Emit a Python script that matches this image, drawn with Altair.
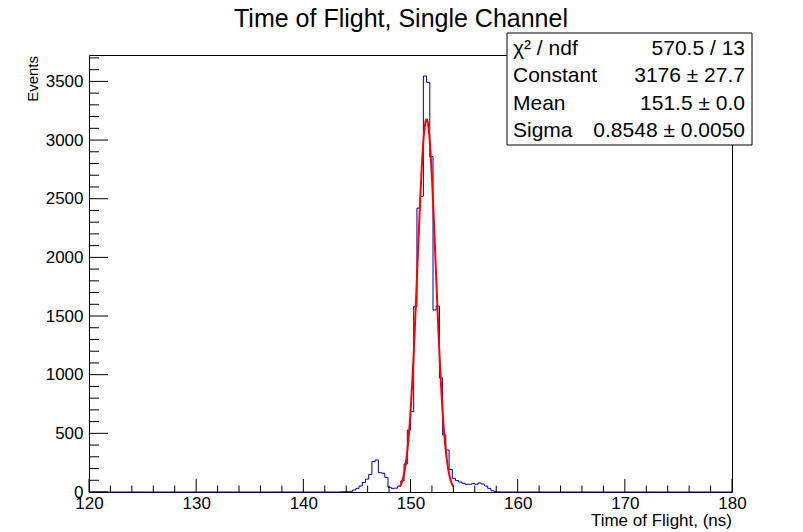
import altair as alt
import pandas as pd

FONT = "Liberation Sans"

# ---------------- data ----------------
x_min, x_max = 120.0, 180.0
bin_width = 0.3
n_bins = 200
first_bin = 78  # index of first listed bin (143.4 ns)
counts = [1, 2, 3, 6, 17, 31, 51, 80, 110, 150,
          259, 273, 165, 160, 125, 40, 31, 33, 50, 95,
          240, 528, 685, 1580, 2420, 2520, 3546, 3492, 2858, 1551,
          1585, 972, 486, 358, 193, 117, 97, 85, 74, 66,
          66, 71, 66, 77, 68, 51, 31, 11, 3, 1]
y_max = 3725

fit_const = 3176.0
fit_mean = 151.5
fit_sigma = 0.8548
fit_lo, fit_hi = 149.0, 154.0

title_text = "Time of Flight, Single Channel"
x_title = "Time of Flight, (ns)"
y_title = "Events"
stat_labels = ["χ² / ndf", "Constant", "Mean", "Sigma"]
stat_values = ["570.5 / 13", "3176 ± 27.7", "151.5 ± 0.0", "0.8548 ± 0.0050"]

x_major = [120, 130, 140, 150, 160, 170, 180]
x_minor = [v for v in range(122, 180, 2) if v % 10 != 0]
y_major = [0, 500, 1000, 1500, 2000, 2500, 3000, 3500]
y_minor = [v for v in range(100, 3800, 100) if v % 500 != 0]

# ---------------- tables ----------------
full = [0] * n_bins
for i, c in enumerate(counts):
    full[first_bin + i] = c
edges = [round(x_min + bin_width * k, 4) for k in range(n_bins + 1)]
hist_df = pd.DataFrame({"x": edges, "n": full + [full[-1]]})

W, H = 643, 437
xs = alt.Scale(domain=[x_min, x_max], nice=False, zero=False)
ys = alt.Scale(domain=[0, y_max], nice=False)

x_axis = alt.Axis(values=x_major, format="d", title=None, ticks=False, tickSize=0,
                  domain=False, grid=False, labelFont=FONT, labelFontSize=17,
                  labelColor="black", labelPadding=3, labelFlush=False,
                  labelOverlap=False)
y_axis = alt.Axis(values=y_major, format="d", title=None, ticks=False, tickSize=0,
                  domain=False, grid=False, labelFont=FONT, labelFontSize=17,
                  labelColor="black", labelPadding=6, labelOverlap=False)

hist = alt.Chart(hist_df).mark_line(
    interpolate="step-after", color="#000099", strokeWidth=1
).encode(
    x=alt.X("x:Q", scale=xs, axis=x_axis),
    y=alt.Y("n:Q", scale=ys, axis=y_axis),
)

fit = alt.Chart(alt.sequence(fit_lo, fit_hi + 0.005, 0.01, as_="x")).transform_calculate(
    n=f"{fit_const}*exp(-0.5*pow((datum.x-{fit_mean})/{fit_sigma},2))"
).mark_line(color="#ff0000", strokeWidth=2).encode(
    x=alt.X("x:Q", scale=xs),
    y=alt.Y("n:Q", scale=ys),
)

ymaj = alt.Chart(pd.DataFrame({"n": y_major})).mark_rule(color="black", strokeWidth=1).encode(
    y=alt.Y("n:Q", scale=ys), x=alt.value(0), x2=alt.value(19))
ymin = alt.Chart(pd.DataFrame({"n": y_minor})).mark_rule(color="black", strokeWidth=1).encode(
    y=alt.Y("n:Q", scale=ys), x=alt.value(0), x2=alt.value(10))
xmaj = alt.Chart(pd.DataFrame({"x": x_major})).mark_rule(color="black", strokeWidth=1).encode(
    x=alt.X("x:Q", scale=xs), y=alt.value(H), y2=alt.value(H - 13))
xmin = alt.Chart(pd.DataFrame({"x": x_minor})).mark_rule(color="black", strokeWidth=1).encode(
    x=alt.X("x:Q", scale=xs), y=alt.value(H), y2=alt.value(H - 6.5))

# stats box
box = alt.Chart(pd.DataFrame({"a": [0]})).mark_rect(
    fill="white", stroke="black", strokeWidth=1
).encode(x=alt.value(418), x2=alt.value(663), y=alt.value(-22), y2=alt.value(90))

stats_df = pd.DataFrame({"label": stat_labels, "value": stat_values, "row": [0, 1, 2, 3]})
stat_lab = alt.Chart(stats_df).transform_calculate(py="-6 + datum.row * 27.3").mark_text(
    align="left", baseline="middle", font=FONT, fontSize=21, color="black"
).encode(x=alt.value(424), y=alt.Y("py:Q", scale=None), text="label:N")
stat_val = alt.Chart(stats_df).transform_calculate(py="-6 + datum.row * 27.3").mark_text(
    align="right", baseline="middle", font=FONT, fontSize=21, color="black"
).encode(x=alt.value(656), y=alt.Y("py:Q", scale=None), text="value:N")

ytitle = alt.Chart(pd.DataFrame({"t": [y_title]})).mark_text(
    align="right", baseline="middle", angle=270, font=FONT, fontSize=15, color="black"
).encode(x=alt.value(-56), y=alt.value(1), text="t:N")
xtitle = alt.Chart(pd.DataFrame({"t": [x_title]})).mark_text(
    align="right", baseline="middle", font=FONT, fontSize=17, color="black"
).encode(x=alt.value(W), y=alt.value(466), text="t:N")
title = alt.Chart(pd.DataFrame({"t": [title_text]})).mark_text(
    align="center", baseline="alphabetic", font=FONT, fontSize=25, color="black"
).encode(x=alt.value(312), y=alt.value(-28), text="t:N")

chart = alt.layer(
    hist, fit, ymaj, ymin, xmaj, xmin, box, stat_lab, stat_val, ytitle, xtitle, title
).properties(
    width=W, height=H,
    autosize=alt.AutoSizeParams(type="none"),
    padding={"left": 81, "top": 47, "right": 63, "bottom": 40},
    background="white",
).configure_view(stroke="black", strokeWidth=1)

chart.save("out.html", embed_options={"renderer": "svg", "actions": False})
